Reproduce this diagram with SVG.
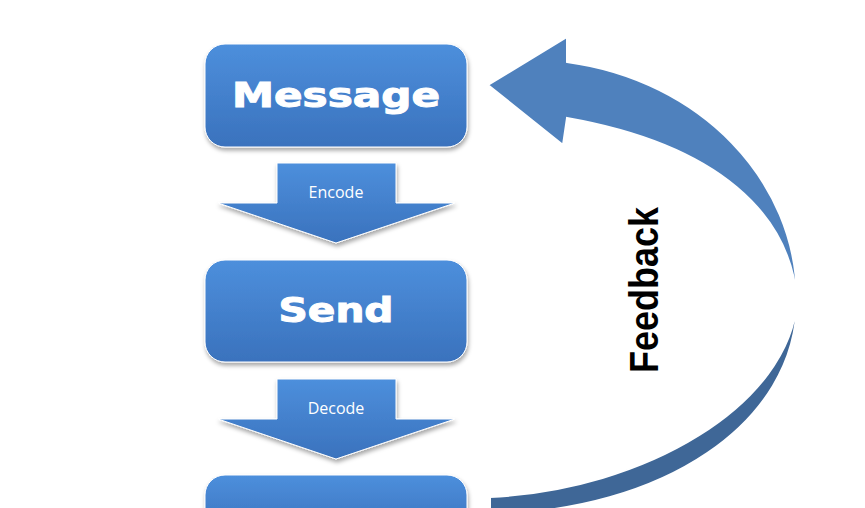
<svg xmlns="http://www.w3.org/2000/svg" width="865" height="508" viewBox="0 0 865 508">
<defs>
<linearGradient id="g" x1="0" y1="0" x2="0" y2="1"><stop offset="0" stop-color="#4d8fdc"/><stop offset="1" stop-color="#3a72bd"/></linearGradient>
<filter id="sh" x="-10%" y="-10%" width="130%" height="130%"><feDropShadow dx="1" dy="3" stdDeviation="2" flood-color="#000" flood-opacity="0.35"/></filter>
<style>
.box{fill:url(#g);stroke:#fff;stroke-width:1;filter:url(#sh)}
.arr{fill:url(#g);stroke:#fff;stroke-width:1;filter:url(#sh)}
.bt{font-family:"DejaVu Sans","Liberation Sans",sans-serif;font-weight:bold;font-size:33px;fill:#fff;text-anchor:middle;stroke:#fff;stroke-width:1}
.st{font-family:"Open Sans","Liberation Sans",sans-serif;font-size:16px;fill:#fff;text-anchor:middle}
</style>
</defs>
<g id="feedback">
<path d="M488,85 L567,37 L567,62 C700,80 797,180 797,300 C790,215 720,145 567,118 L563,145 Z" fill="#4f81bd" stroke="#fff" stroke-width="2"/>
<path d="M797,300 C797,425 660,512 490,514 L490,497 C645,490 790,405 797,300 Z" fill="#3f6797" stroke="#fff" stroke-width="2"/>
<text transform="translate(658,290) rotate(-90)" font-family="Liberation Sans,sans-serif" font-weight="bold" font-size="40" text-anchor="middle" textLength="166" lengthAdjust="spacingAndGlyphs" fill="#000">Feedback</text>
</g>
<g id="connectors">
<g id="encode"><path class="arr" d="M277,163 H396 V203 H455 L336,243 L218,203 H277 Z"/><text class="st" x="336" y="198">Encode</text></g>
<g id="decode"><path class="arr" d="M277,379 H396 V419 H455 L336,459 L218,419 H277 Z"/><text class="st" x="336" y="414">Decode</text></g>
</g>
<g id="message"><rect class="box" x="205" y="44" width="262" height="103" rx="20"/><text class="bt" x="336" y="107" textLength="208" lengthAdjust="spacingAndGlyphs">Message</text></g>
<g id="send"><rect class="box" x="205" y="260" width="262" height="102" rx="20"/><text class="bt" x="336" y="322" textLength="115" lengthAdjust="spacingAndGlyphs">Send</text></g>
<g id="receive"><rect class="box" x="205" y="475" width="262" height="60" rx="20"/></g>
</svg>
